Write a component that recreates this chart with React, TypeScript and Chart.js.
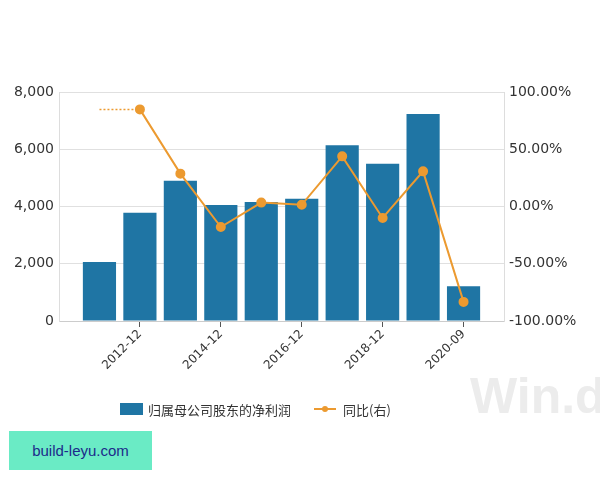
import React, { useEffect, useRef } from "react";
import { Chart, registerables } from "chart.js";

Chart.register(...registerables);

const categories = ["2011-12", "2012-12", "2013-12", "2014-12", "2015-12", "2016-12", "2017-12", "2018-12", "2019-12", "2020-09"];
const netProfit = [2060, 3780, 4900, 4050, 4160, 4270, 6140, 5490, 7230, 1210];
const yoy: (number | null)[] = [null, 84.8, 28.7, -17.9, 3.4, 1.5, 43.8, -10.0, 30.7, -83.3];
const shownTickLabels = ["2012-12", "2014-12", "2016-12", "2018-12", "2020-09"];
const barLabel = "归属母公司股东的净利润";
const lineLabel = "同比(右)";

const BAR_COLOR = "#1f75a4";
const LINE_COLOR = "#ec9a30";

export default function App() {
  const ref = useRef<HTMLCanvasElement | null>(null);

  useEffect(() => {
    document.body.style.margin = "0";
    const labels = ["", ...categories, ""];
    const barData = [null, ...netProfit, null];
    const lineData = [null, ...yoy, null];
    const firstIdx = yoy.findIndex((v) => v !== null);
    const dotted = labels.map((_, i) => (i >= 1 && i <= firstIdx + 1 ? yoy[firstIdx] : null));

    const chart = new Chart(ref.current!, {
      type: "bar",
      data: {
        labels,
        datasets: [
          {
            type: "bar",
            label: barLabel,
            data: barData,
            backgroundColor: BAR_COLOR,
            categoryPercentage: 0.82,
            barPercentage: 1,
            yAxisID: "y",
            order: 3,
          },
          {
            type: "line",
            label: lineLabel,
            data: lineData,
            borderColor: LINE_COLOR,
            backgroundColor: LINE_COLOR,
            borderWidth: 2,
            pointRadius: 4,
            pointBackgroundColor: LINE_COLOR,
            pointBorderColor: LINE_COLOR,
            yAxisID: "y1",
            order: 1,
          },
          {
            type: "line",
            label: "dotted",
            data: dotted,
            borderColor: LINE_COLOR,
            borderWidth: 1.5,
            borderDash: [2, 2],
            pointRadius: 0,
            yAxisID: "y1",
            order: 2,
          },
        ] as any,
      },
      options: {
        responsive: false,
        animation: false,
        devicePixelRatio: 1,
        layout: { padding: { top: 92, left: 0, right: 0, bottom: 0 } },
        plugins: { legend: { display: false }, tooltip: { enabled: false }, title: { display: false } },
        scales: {
          x: {
            offset: false,
            grid: { drawOnChartArea: false, offset: false, tickColor: "#555", tickLength: 6 },
            border: { color: "#cccccc" },
            ticks: {
              autoSkip: false,
              minRotation: 45,
              maxRotation: 45,
              padding: 0,
              color: "#333",
              font: { family: "DejaVu Sans", size: 12 },
              callback: function (this: any, _v: any, i: number) {
                const l = labels[i];
                return shownTickLabels.includes(l) ? l : null;
              },
            },
            afterFit: (s: any) => {
              s.height = 159;
            },
          },
          y: {
            position: "left",
            min: 0,
            max: 8000,
            grid: { color: "#e0e0e0", drawTicks: false },
            border: { color: "#dddddd" },
            ticks: {
              stepSize: 2000,
              padding: 5,
              color: "#333",
              font: { family: "DejaVu Sans", size: 14 },
              callback: (v: any) => Number(v).toLocaleString("en-US"),
            },
            afterFit: (s: any) => {
              s.width = 59;
            },
          },
          y1: {
            position: "right",
            min: -100,
            max: 100,
            grid: { drawOnChartArea: false, drawTicks: false },
            border: { color: "#dddddd" },
            ticks: {
              stepSize: 50,
              padding: 5,
              color: "#333",
              font: { family: "DejaVu Sans", size: 14 },
              callback: (v: any) => Number(v).toFixed(2) + "%",
            },
            afterFit: (s: any) => {
              s.width = 96;
            },
          },
        },
      } as any,
    });
    return () => chart.destroy();
  }, []);

  const cjk = '"Noto Sans CJK SC", "Noto Sans", sans-serif';
  return (
    <div style={{ position: "relative", width: 600, height: 480, background: "#fff", overflow: "hidden" }}>
      <canvas ref={ref} width={600} height={480} style={{ position: "absolute", left: 0, top: 0, width: 600, height: 480 }} />
      <div
        style={{
          position: "absolute",
          left: 470,
          top: 368,
          fontFamily: "'Liberation Sans', Arial, sans-serif",
          fontWeight: "bold",
          fontSize: 50,
          color: "#ececec",
          lineHeight: "56px",
          whiteSpace: "nowrap",
        }}
      >
        Win.d
      </div>
      <div style={{ position: "absolute", left: 120, top: 401, height: 16, display: "flex", alignItems: "center", fontFamily: cjk, fontSize: 13, color: "#333", whiteSpace: "nowrap" }}>
        <span style={{ display: "inline-block", width: 23, height: 12, background: BAR_COLOR, marginRight: 5 }} />
        <span>{barLabel}</span>
        <span style={{ display: "inline-block", position: "relative", width: 22, height: 12, marginLeft: 23, marginRight: 7 }}>
          <span style={{ position: "absolute", left: 0, top: 5, width: 22, height: 2, background: LINE_COLOR }} />
          <span style={{ position: "absolute", left: 8, top: 3, width: 6, height: 6, borderRadius: 3, background: LINE_COLOR }} />
        </span>
        <span>{lineLabel}</span>
      </div>
      <div
        style={{
          position: "absolute",
          left: 9,
          top: 431,
          width: 143,
          height: 39,
          background: "#6aebc5",
          display: "flex",
          alignItems: "center",
          justifyContent: "center",
          fontFamily: "'Liberation Sans', Arial, sans-serif",
          fontSize: 15,
          color: "#1c2a8a",
        }}
      >
        build-leyu.com
      </div>
    </div>
  );
}
